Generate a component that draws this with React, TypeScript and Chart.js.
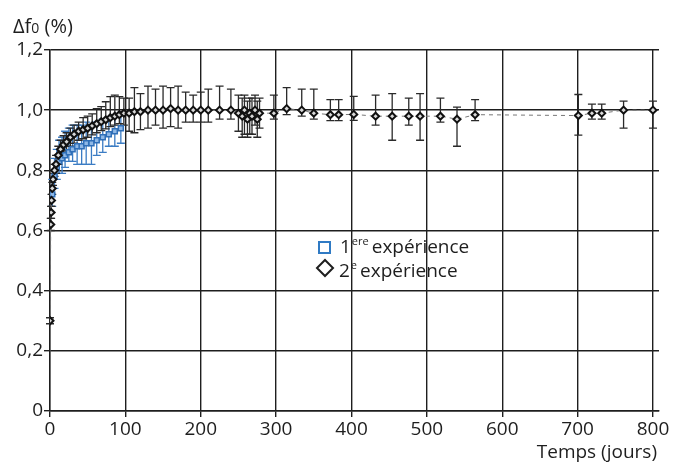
import { useEffect, useRef } from 'react';
import { Chart, registerables } from 'chart.js';

Chart.register(...registerables);

const FONT = '"Open Sans", "Noto Sans", sans-serif';
const INK = '#1e1e1e';

// 1ère expérience (blue squares)
const exp1Days = [3, 6, 9, 12, 16, 20, 25, 30, 36, 42, 48, 55, 62, 70, 78, 86, 94];
const exp1Values = [0.72, 0.78, 0.81, 0.83, 0.84, 0.85, 0.86, 0.87, 0.88, 0.88, 0.89, 0.89, 0.9, 0.91, 0.92, 0.93, 0.94];
const exp1ErrUp = [0.05, 0.06, 0.06, 0.07, 0.07, 0.08, 0.08, 0.08, 0.07, 0.07, 0.07, 0.06, 0.06, 0.06, 0.05, 0.05, 0.05];
const exp1ErrDown = [0.04, 0.04, 0.04, 0.04, 0.05, 0.04, 0.03, 0.04, 0.06, 0.06, 0.07, 0.07, 0.05, 0.05, 0.04, 0.05, 0.05];

// 2e expérience (black diamonds)
const exp2Days = [0, 1, 1.5, 2, 3, 4, 6, 8, 11, 14, 18, 22, 27, 32, 38, 44, 50, 56, 62, 68, 74, 80, 86, 92, 98, 105, 112, 120, 130, 140, 150, 160, 170, 180, 190, 200, 210, 225, 240, 250, 255, 258, 262, 265, 268, 272, 275, 278, 297, 314, 334, 350, 372, 383, 403, 432, 454, 476, 491, 518, 540, 564, 701, 719, 732, 761, 800];
const exp2Values = [0.3, 0.62, 0.66, 0.7, 0.74, 0.77, 0.8, 0.82, 0.85, 0.87, 0.885, 0.895, 0.91, 0.92, 0.93, 0.935, 0.94, 0.948, 0.955, 0.962, 0.968, 0.975, 0.98, 0.985, 0.99, 0.99, 0.995, 0.995, 1.0, 1.0, 1.0, 1.005, 1.0, 1.0, 1.0, 1.0, 1.0, 1.0, 1.0, 0.99, 0.98, 1.0, 0.97, 0.99, 0.98, 1.0, 0.97, 0.99, 0.99, 1.005, 1.0, 0.99, 0.985, 0.985, 0.986, 0.98, 0.98, 0.98, 0.98, 0.98, 0.97, 0.985, 0.982, 0.99, 0.99, 1.0, 1.0];
const exp2ErrUp = [0.01, 0.02, 0.02, 0.02, 0.02, 0.02, 0.02, 0.03, 0.03, 0.03, 0.03, 0.03, 0.03, 0.03, 0.03, 0.04, 0.04, 0.04, 0.05, 0.05, 0.06, 0.07, 0.07, 0.06, 0.05, 0.05, 0.08, 0.06, 0.08, 0.07, 0.08, 0.07, 0.08, 0.06, 0.05, 0.06, 0.07, 0.08, 0.07, 0.06, 0.06, 0.05, 0.06, 0.05, 0.06, 0.05, 0.06, 0.05, 0.06, 0.07, 0.07, 0.08, 0.05, 0.05, 0.06, 0.07, 0.075, 0.06, 0.075, 0.06, 0.04, 0.05, 0.07, 0.03, 0.03, 0.03, 0.03];
const exp2ErrDown = [0.01, 0.02, 0.02, 0.02, 0.02, 0.02, 0.02, 0.03, 0.03, 0.03, 0.03, 0.03, 0.03, 0.03, 0.03, 0.03, 0.03, 0.03, 0.03, 0.03, 0.03, 0.03, 0.03, 0.03, 0.04, 0.06, 0.07, 0.06, 0.06, 0.05, 0.06, 0.06, 0.06, 0.04, 0.04, 0.04, 0.04, 0.03, 0.03, 0.06, 0.07, 0.08, 0.06, 0.07, 0.06, 0.05, 0.06, 0.05, 0.02, 0.02, 0.02, 0.02, 0.02, 0.02, 0.02, 0.03, 0.08, 0.03, 0.08, 0.02, 0.09, 0.02, 0.065, 0.02, 0.02, 0.06, 0.06];

const yTicks = [0, 0.2, 0.4, 0.6, 0.8, 1.0, 1.2];
const xTicks = [0, 100, 200, 300, 400, 500, 600, 700, 800];

const errorBarPlugin = {
  id: 'errorBars',
  beforeDatasetsDraw(chart: any) {
    const ctx = chart.ctx;
    const xs = chart.scales.x;
    const ys = chart.scales.y;
    chart.data.datasets.forEach((ds: any) => {
      if (!ds.errUp) return;
      ctx.save();
      ctx.strokeStyle = ds.errColor;
      ctx.lineWidth = 1.3;
      ds.data.forEach((p: any, i: number) => {
        const x = xs.getPixelForValue(p.x);
        const yt = ys.getPixelForValue(p.y + ds.errUp[i]);
        const yb = ys.getPixelForValue(p.y - ds.errDown[i]);
        ctx.beginPath();
        ctx.moveTo(x, yt);
        ctx.lineTo(x, yb);
        ctx.moveTo(x - 4, yt);
        ctx.lineTo(x + 4, yt);
        ctx.moveTo(x - 4, yb);
        ctx.lineTo(x + 4, yb);
        ctx.stroke();
      });
      ctx.restore();
    });
  },
};

const textPlugin = {
  id: 'texts',
  afterDraw(chart: any) {
    const ctx = chart.ctx;
    const area = chart.chartArea;
    ctx.save();
    ctx.fillStyle = INK;
    ctx.textBaseline = 'alphabetic';
    ctx.textAlign = 'left';
    // y axis title
    ctx.font = `20px ${FONT}`;
    ctx.fillText('Δf', 13, 33);
    let w = ctx.measureText('Δf').width;
    ctx.font = `14px ${FONT}`;
    ctx.fillText('0', 13 + w, 33);
    w += ctx.measureText('0').width;
    ctx.font = `20px ${FONT}`;
    ctx.fillText(' (%)', 13 + w, 33);
    // x axis title
    ctx.font = `19px ${FONT}`;
    ctx.textAlign = 'right';
    ctx.fillText('Temps (jours)', area.right - 2, 458);
    ctx.textAlign = 'left';

    // legend
    ctx.lineWidth = 2;
    ctx.strokeStyle = '#2f7ac4';
    ctx.fillStyle = '#ffffff';
    ctx.fillRect(319, 242, 11, 11);
    ctx.strokeRect(319, 242, 11, 11);
    ctx.strokeStyle = INK;
    ctx.beginPath();
    ctx.moveTo(325, 260);
    ctx.lineTo(333, 268);
    ctx.lineTo(325, 276);
    ctx.lineTo(317, 268);
    ctx.closePath();
    ctx.stroke();

    ctx.fillStyle = INK;
    ctx.font = `19px ${FONT}`;
    ctx.fillText('1', 340, 253);
    let lw = ctx.measureText('1').width;
    ctx.font = `11px ${FONT}`;
    ctx.fillText('ere', 340 + lw + 1, 245);
    lw += ctx.measureText('ere').width + 4;
    ctx.font = `19px ${FONT}`;
    ctx.fillText('expérience', 340 + lw, 253);

    ctx.fillText('2', 339, 277);
    lw = ctx.measureText('2').width;
    ctx.font = `11px ${FONT}`;
    ctx.fillText('e', 339 + lw + 1, 269);
    lw += ctx.measureText('e').width + 4;
    ctx.font = `19px ${FONT}`;
    ctx.fillText('expérience', 339 + lw, 277);
    ctx.restore();
  },
};

export default function App() {
  const ref = useRef<HTMLCanvasElement>(null);

  useEffect(() => {
    if (!ref.current) return;
    const chart = new Chart(ref.current, {
      type: 'scatter',
      data: {
        datasets: [
          {
            label: '1ere expérience',
            data: exp1Days.map((d, i) => ({ x: d, y: exp1Values[i] })),
            errUp: exp1ErrUp,
            errDown: exp1ErrDown,
            errColor: '#3b7cc4',
            pointStyle: 'rect',
            pointRadius: 3.5,
            pointBorderWidth: 1.5,
            borderColor: '#2f6fb8',
            backgroundColor: '#8fb8e6',
            showLine: false,
            order: 1,
          } as any,
          {
            label: '2e expérience',
            data: exp2Days.map((d, i) => ({ x: d, y: exp2Values[i] })),
            errUp: exp2ErrUp,
            errDown: exp2ErrDown,
            errColor: '#2a2a2a',
            pointStyle: 'rectRot',
            pointRadius: 3.5,
            pointBorderWidth: 2,
            pointBorderColor: '#111',
            pointBackgroundColor: '#d8d8d8',
            borderColor: '#777',
            borderWidth: 1,
            borderDash: [4, 4],
            showLine: true,
            order: 0,
          } as any,
        ],
      },
      options: {
        animation: false,
        responsive: true,
        maintainAspectRatio: false,
        layout: { padding: { top: 50, right: 25, left: 0, bottom: 0 } },
        plugins: { legend: { display: false }, tooltip: { enabled: false } },
        scales: {
          x: {
            type: 'linear',
            min: 0,
            max: 808,
            afterFit: (s: any) => {
              s.height = 54;
            },
            afterBuildTicks: (s: any) => {
              s.ticks = xTicks.map((v) => ({ value: v }));
            },
            grid: { color: INK, lineWidth: 1.4, tickLength: 6, tickColor: INK, tickWidth: 1.4 },
            border: { display: true, color: INK, width: 1.4 },
            ticks: {
              font: { family: FONT, size: 19 },
              color: INK,
              padding: 1,
              maxRotation: 0,
              callback: (v: any) => String(v),
            },
          },
          y: {
            type: 'linear',
            min: 0,
            max: 1.2,
            afterFit: (s: any) => {
              s.width = 50;
            },
            afterBuildTicks: (s: any) => {
              s.ticks = yTicks.map((v) => ({ value: v }));
            },
            grid: { color: INK, lineWidth: 1.4, tickLength: 6, tickColor: INK, tickWidth: 1.4 },
            border: { display: true, color: INK, width: 1.4 },
            ticks: {
              font: { family: FONT, size: 19 },
              color: INK,
              padding: 1,
              callback: (v: any) => (v === 0 ? '0' : Number(v).toFixed(1).replace('.', ',')),
            },
          },
        },
      },
      plugins: [errorBarPlugin, textPlugin],
    });
    return () => chart.destroy();
  }, []);

  return (
    <div style={{ position: 'fixed', left: 0, top: 0, width: 684, height: 465, background: '#fff' }}>
      <canvas ref={ref} />
    </div>
  );
}
